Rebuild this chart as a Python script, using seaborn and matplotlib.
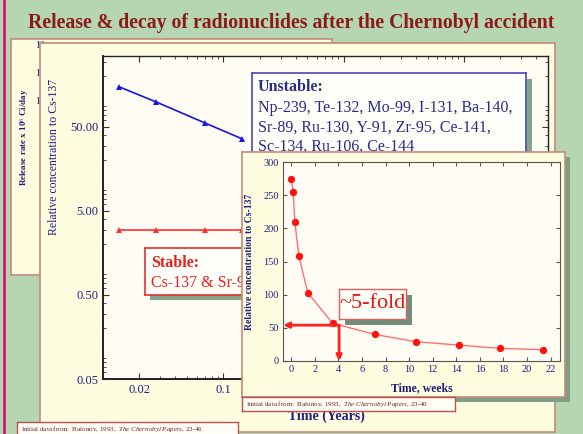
import numpy as np
import pandas as pd
import matplotlib
matplotlib.use("Agg")
import matplotlib.pyplot as plt
from matplotlib.lines import Line2D
import seaborn as sns

# data
years = [0.0137, 0.0278, 0.070, 0.144]
unstable = [150, 99, 56, 36]
stable = [3.0, 3.0, 3.0, 3.0]

weeks = [0.0, 0.17, 0.3, 0.65, 1.4, 3.5, 7.1, 10.6, 14.2, 17.7, 21.4]
conc = [274, 255, 210, 158, 103, 57, 40, 29, 24, 19, 17]

unstable_list = ["Np-239, Te-132, Mo-99, I-131, Ba-140,",
                 "Sr-89, Ru-130, Y-91, Zr-95, Ce-141,",
                 "Sc-134, Ru-106, Ce-144"]

sns.set_style("ticks")
plt.rcParams['font.family'] = ['Liberation Serif', 'DejaVu Serif']
plt.rcParams['mathtext.fontset'] = 'custom'
plt.rcParams['mathtext.rm'] = 'Liberation Serif'
plt.rcParams['mathtext.it'] = 'Liberation Serif:italic'
plt.rcParams['mathtext.bf'] = 'Liberation Serif:bold'

W, H = 583, 434
NAVY = '#1e1e80'
PANEL = '#fffde0'
EDGE = '#c58a7c'
SHADOW = '#86a68a'

fig = plt.figure(figsize=(W / 100, H / 100), dpi=100)
fig.patch.set_facecolor('#b6d6b2')


def box(x0, y0, x1, y1):
    return [x0 / W, 1 - y1 / H, (x1 - x0) / W, (y1 - y0) / H]


def panel(x0, y0, x1, y1, face, edge, z, lw=1.2):
    ax = fig.add_axes(box(x0, y0, x1, y1))
    ax.set_facecolor(face)
    ax.set_xticks([])
    ax.set_yticks([])
    for s in ax.spines.values():
        s.set_color(edge)
        s.set_linewidth(lw)
    ax.set_zorder(z)
    return ax


def ftext(x, y, s, z, **kw):
    return fig.text(x / W, 1 - y / H, s, zorder=z, **kw)


# pink rule on the left
fig.add_artist(Line2D([4 / W, 4 / W], [0, 1], color='#d4147c', lw=2, zorder=0.5))

# title
ftext(291, 23, "Release & decay of radionuclides after the Chernobyl accident", 10,
      ha='center', va='center', fontsize=14.2, fontweight='bold', color='#8b1a1a')

# back panel (release rate)
panel(11, 39, 332, 275, PANEL, EDGE, 1)
ftext(25, 137, r"Release rate x 10$^{6}$ Ci/day", 1.5, rotation=90, ha='center',
      va='center', fontsize=6.5, fontweight='bold', color=NAVY)
for yy in [45, 73, 101]:
    ftext(35, yy, "10", 1.5, ha='left', va='center', fontsize=7, color=NAVY)

# middle panel
panel(40, 43, 555, 432, PANEL, EDGE, 2)
ax2 = fig.add_axes(box(103, 56, 548, 379))
ax2.set_zorder(3)
ax2.set_facecolor('#fffcf3')
sns.lineplot(x=years, y=unstable, ax=ax2, color='#1414e6', marker='^',
             markersize=5, markeredgewidth=0, lw=1.2)
sns.lineplot(x=years, y=stable, ax=ax2, color='#ff3030', marker='^',
             markersize=5, markeredgewidth=0, lw=1.2)
ax2.set_xscale('log')
ax2.set_yscale('log')
ax2.set_xlim(0.01, 50)
ax2.set_ylim(0.05, 350)
ax2.set_yticks([0.05, 0.5, 5, 50])
ax2.set_yticklabels(["0.05", "0.50", "5.00", "50.00"])
ax2.set_xticks([0.02, 0.1, 1, 10])
ax2.set_xticklabels(["0.02", "0.1", "1", "10"])
ax2.tick_params(which='both', direction='in', top=True, right=True,
                labelsize=9, labelcolor=NAVY, color='#333333')
ax2.tick_params(which='major', length=4)
ax2.tick_params(which='minor', length=2)
for s in ax2.spines.values():
    s.set_color('#222222')
    s.set_linewidth(1)
ax2.spines['left'].set_linewidth(1.4)
ax2.spines['bottom'].set_linewidth(1.4)
ax2.set_ylabel("Relative concentration to Cs-137", fontsize=8.5, color=NAVY)
ax2.yaxis.set_label_coords(-0.097, 0.687)
ax2.set_xlabel("Time (Years)", fontsize=10, fontweight='bold', color=NAVY)
ax2.xaxis.set_label_coords(0.501, -0.096)

# citation under middle panel
panel(17, 422, 238, 445, '#fffef6', '#c05050', 2.5, lw=1)
ftext(21, 429, r"Initial data from:  Balonov, 1993,  $\it{The\ Chernobyl\ Papers}$, 23-46",
      2.6, ha='left', va='center', fontsize=5, color='#7a1f1f')

# unstable box
panel(258, 79, 532, 170, SHADOW, SHADOW, 3.9, lw=0)
panel(252, 73, 526, 165, '#fffef8', '#4848b8', 4, lw=1.2)
ftext(258, 87, "Unstable:", 4.5, ha='left', va='center', fontsize=11.5,
      fontweight='bold', color='#2b2b8c')
for i, line in enumerate(unstable_list):
    ftext(258, 108 + i * 19.3, line, 4.5, ha='left', va='center', fontsize=11.5,
          color='#2b2b8c')

# stable box
panel(150, 253, 310, 300, SHADOW, SHADOW, 3.9, lw=0)
sb = panel(145, 248, 305, 295, '#fffef8', '#e03030', 4, lw=1.2)
sb.text(0.04, 0.68, "Stable:", ha='left', va='center', fontsize=11.5,
        fontweight='bold', color='#e82020', transform=sb.transAxes)
sb.text(0.04, 0.26, "Cs-137 & Sr-90", ha='left', va='center', fontsize=11.5,
        color='#e82020', transform=sb.transAxes, clip_on=True)

# front panel (decay in weeks)
panel(247, 157, 570, 402, '#7f9f85', '#7f9f85', 4.8, lw=0)
panel(242, 152, 565, 397, PANEL, EDGE, 5)
ax3 = fig.add_axes(box(283, 162, 560, 361))
ax3.set_zorder(6)
ax3.set_facecolor('#fffcf3')
df = pd.DataFrame({'weeks': weeks, 'conc': conc})
sns.lineplot(data=df, x='weeks', y='conc', ax=ax3, color='#ff7070', lw=1,
             marker='o', markersize=4.5, markerfacecolor='#ff1010',
             markeredgecolor='#ff1010')
ax3.set_xlim(-0.7, 22.8)
ax3.set_ylim(0, 300)
ax3.set_xticks(np.arange(0, 23, 2))
ax3.set_yticks(np.arange(0, 301, 50))
ax3.tick_params(direction='in', top=True, right=True, length=3, labelsize=7.5,
                labelcolor=NAVY, color='#555555', pad=3)
for s in ax3.spines.values():
    s.set_color('#555555')
    s.set_linewidth(0.8)
ax3.set_ylabel("Relative concentration to Cs-137", fontsize=7, fontweight='bold',
               color=NAVY)
ax3.yaxis.set_label_coords(-0.105, 0.5)
ax3.set_xlabel("Time, weeks", fontsize=8.5, fontweight='bold', color=NAVY)
ax3.xaxis.set_label_coords(0.5, -0.105)
arrow = dict(arrowstyle='-|>', color='#ff2020', lw=2, mutation_scale=8,
             shrinkA=0, shrinkB=0)
ax3.annotate("", xy=(-0.68, 54), xytext=(4.06, 54), arrowprops=arrow)
ax3.annotate("", xy=(4.06, 0), xytext=(4.06, 54), arrowprops=arrow)

# ~5-fold label
panel(345, 295, 412, 325, '#6f8f78', '#6f8f78', 6.8, lw=0)
fold = panel(339, 289, 406, 319, '#fffef8', '#e06060', 7, lw=1)
fold.text(0.5, 0.5, "~5-fold", ha='center', va='center', fontsize=16,
          color='#ee1111', transform=fold.transAxes)

# citation under front panel
panel(242, 397, 455, 411, '#fffef6', '#c05050', 6, lw=1)
ftext(246, 404, r"Initial data from:  Balonov, 1993,  $\it{The\ Chernobyl\ Papers}$, 23-46",
      6.5, ha='left', va='center', fontsize=5, color='#7a1f1f')

fig.savefig("out.png", dpi=100, facecolor=fig.get_facecolor())
